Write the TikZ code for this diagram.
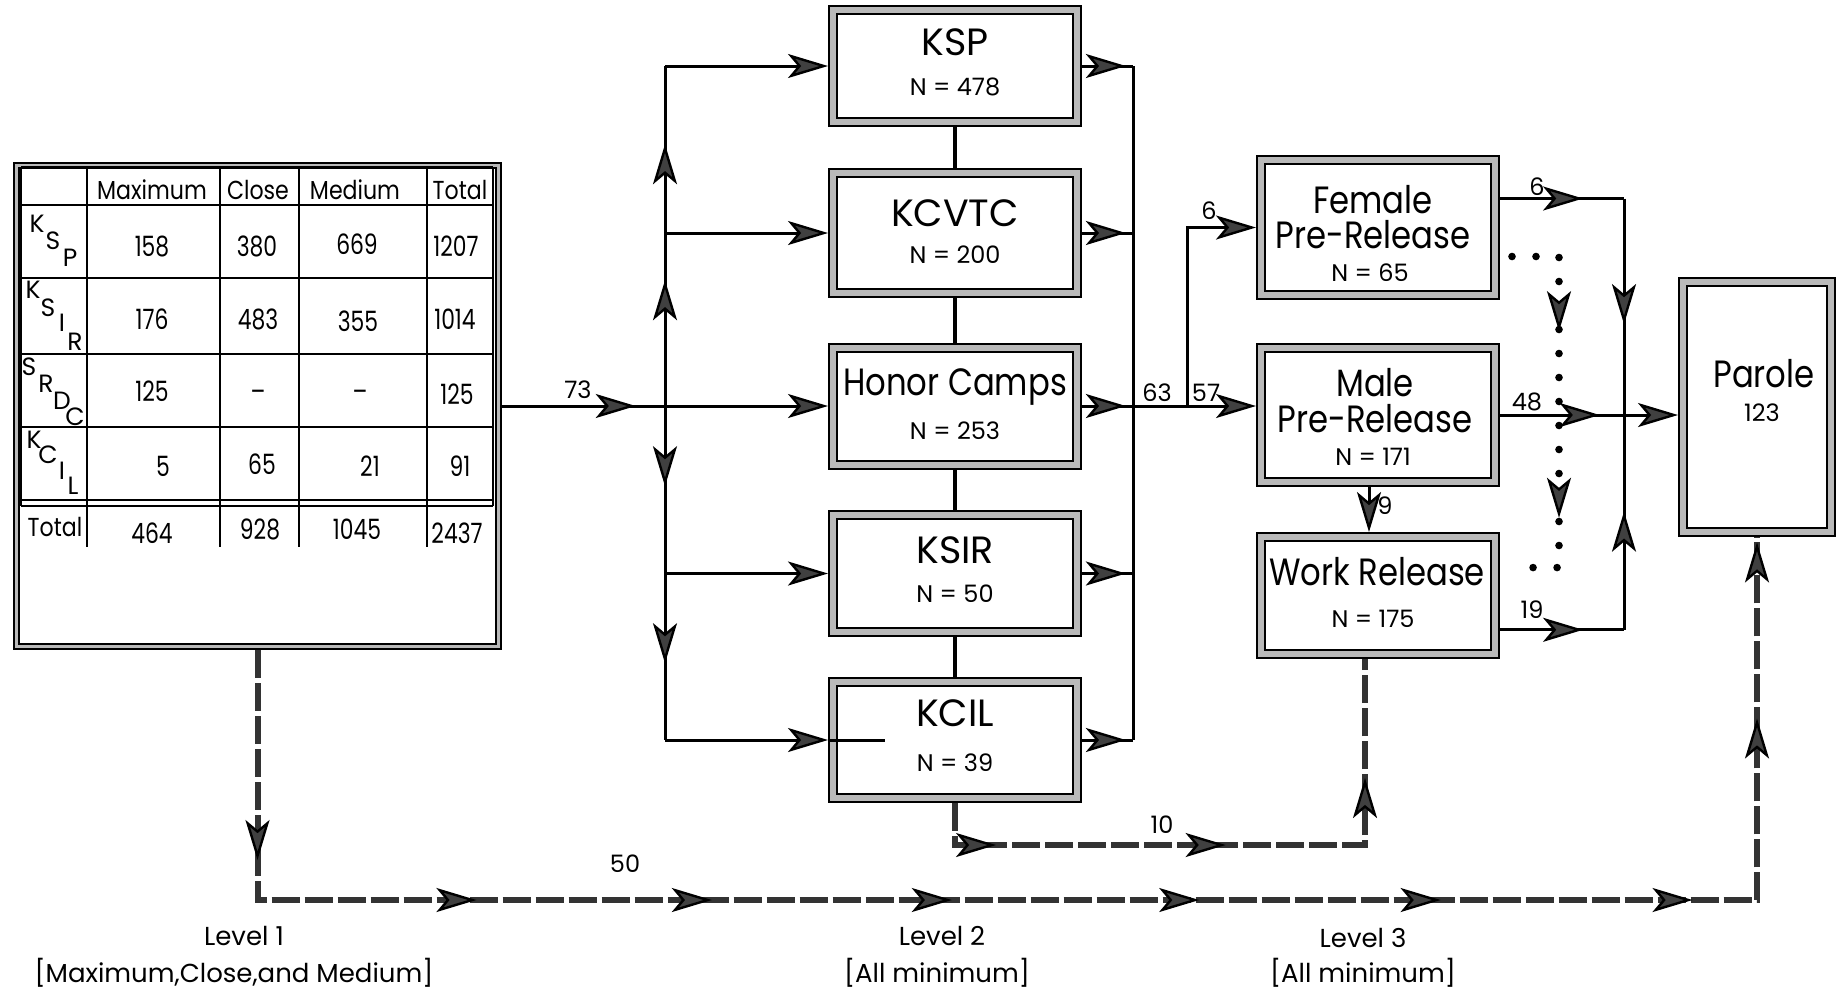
\documentclass[tikz,border=0pt]{standalone}
\usepackage{fontspec}
\setmainfont{Poppins}
\newfontfamily\narrowfont{Poppins}[FakeStretch=0.85]
\newfontfamily\digitfont{Poppins}[FakeStretch=0.78]
\usetikzlibrary{arrows.meta,calc,decorations.markings}
\begin{document}
\begin{tikzpicture}[x=0.5pt,y=-0.5pt,
  boxframe/.style={draw=black,line width=1pt,double=gray!55,double distance=3pt,inner sep=0pt,outer sep=2.5pt},
  tabframe/.style={draw=black,line width=0.9pt,double=gray!55,double distance=1.8pt,inner sep=0pt,outer sep=1.8pt},
  tabline/.style={draw=black,line width=1pt},
  conn/.style={draw=black,line width=1.5pt},
  tipend/.style={-{Stealth[length=20pt,width=12pt,inset=5pt,fill=gray!50!black,line width=1.2pt]}},
  boxlink/.style={draw=black,line width=2.4pt},
  dashconn/.style={draw=black!80,line width=3pt,dash pattern=on 14pt off 2.5pt},
  dotconn/.style={draw=black,line width=3.8pt,line cap=round,dash pattern=on 0pt off 12pt},
  arrowat/.style={postaction={decorate,decoration={markings,mark=at position #1 with {\arrow{Stealth[length=20pt,width=12pt,inset=5pt,fill=gray!50!black,line width=1.2pt]}}}}},
  ttl/.style={inner sep=0pt,font=\fontsize{19}{22}\selectfont,text height=13.3pt,text depth=0pt},
  nttl/.style={inner sep=0pt,font=\narrowfont\fontsize{19}{22}\selectfont,text height=13.3pt,text depth=0pt},
  nval/.style={inner sep=0pt,font=\fontsize{12}{14}\selectfont,text height=8.4pt,text depth=0pt},
  hdr/.style={inner sep=0pt,font=\narrowfont\fontsize{13}{15}\selectfont,text height=9.1pt,text depth=0pt},
  num/.style={inner sep=0pt,font=\digitfont\fontsize{14}{16}\selectfont,text height=9.8pt,text depth=0pt},
  rowl/.style={inner sep=0pt,font=\fontsize{12.5}{15}\selectfont,text height=8.8pt,text depth=0pt},
  lab/.style={inner sep=0pt,font=\fontsize{12}{14}\selectfont,text height=8.4pt,text depth=0pt},
  lvl/.style={inner sep=0pt,font=\fontsize{13}{15}\selectfont,text height=9.1pt,text depth=0pt},
]
\useasboundingbox (0,0) rectangle (1841,993);
\fill[white] (0,0) rectangle (1841,993);

% ---------- Level 1 table ----------
\node[tabframe,minimum width=241pt,minimum height=240.5pt] (tab) at (257.5,406) {};
\foreach \yy in {167,205,278,354,427,500,506} \draw[tabline] (21,\yy) -- (493,\yy);
\draw[tabline] (21,167) -- (21,506);
\draw[tabline] (493,167) -- (493,506);
\foreach \xx in {87,220,299,427} \draw[tabline] (\xx,167) -- (\xx,547);

\node[hdr] (hmax) at (152,190) {Maximum};
\node[hdr] (hclo) at (258,190) {Close};
\node[hdr] (hmed) at (355,190) {Medium};
\node[hdr] (htot) at (460,190) {Total};

\node[rowl] (r1a) at (37,224) {K};
\node[rowl] (r1b) at (53,241) {S};
\node[rowl] (r1c) at (70,258) {P};
\node[rowl] (r2a) at (33,290) {K};
\node[rowl] (r2b) at (48,308) {S};
\node[rowl] (r2c) at (62,323) {I};
\node[rowl] (r2d) at (75,342) {R};
\node[rowl] (r3a) at (29,367) {S};
\node[rowl] (r3b) at (46,384) {R};
\node[rowl] (r3c) at (62,401) {D};
\node[rowl] (r3d) at (75,417) {C};
\node[rowl] (r4a) at (34,440) {K};
\node[rowl] (r4b) at (48,455) {C};
\node[rowl] (r4c) at (62,471) {I};
\node[rowl] (r4d) at (73,486) {L};
\node[hdr] (r5a) at (55,527) {Total};

\node[num] (c11) at (152,247) {158};
\node[num] (c12) at (257,247) {380};
\node[num] (c13) at (357,245) {669};
\node[num] (c14) at (456,247) {1207};
\node[num] (c21) at (152,320) {176};
\node[num] (c22) at (258,320) {483};
\node[num] (c23) at (358,322) {355};
\node[num] (c24) at (455,320) {1014};
\node[num] (c31) at (152,392) {125};
\node[num] (c32) at (258,392) {–};
\node[num] (c33) at (360,392) {–};
\node[num] (c34) at (457,395) {125};
\node[num] (c41) at (163,467) {5};
\node[num] (c42) at (262,465) {65};
\node[num] (c43) at (370,467) {21};
\node[num] (c44) at (460,467) {91};
\node[num] (c51) at (152,534) {464};
\node[num] (c52) at (260,530) {928};
\node[num] (c53) at (357,530) {1045};
\node[num] (c54) at (457,534) {2437};

% ---------- Level 2 boxes ----------
\node[boxframe,minimum width=122pt,minimum height=56pt] (ksp) at (955,66) {};
\node[boxframe,minimum width=122pt,minimum height=60pt] (kcvtc) at (955,233) {};
\node[boxframe,minimum width=122pt,minimum height=58.5pt] (hc) at (955,406) {};
\node[boxframe,minimum width=122pt,minimum height=58.5pt] (ksir) at (955,573.5) {};
\node[boxframe,minimum width=122pt,minimum height=58pt] (kcil) at (955,740) {};

\node[ttl] (kspt) at (955,42) {KSP};
\node[nval] (kspn) at (955,87) {N = 478};
\node[ttl] (kcvtct) at (955,213) {KCVTC};
\node[nval] (kcvtcn) at (955,255) {N = 200};
\node[nttl] (hct) at (955,382) {Honor Camps};
\node[nval] (hcn) at (955,431) {N = 253};
\node[ttl] (ksirt) at (955,550) {KSIR};
\node[nval] (ksirn) at (955,594) {N = 50};
\node[ttl] (kcilt) at (955,713) {KCIL};
\node[nval] (kciln) at (955,763) {N = 39};

% ---------- Level 3 boxes ----------
\node[boxframe,minimum width=117pt,minimum height=67.5pt] (female) at (1378,227.5) {};
\node[boxframe,minimum width=117pt,minimum height=67pt] (male) at (1378,415) {};
\node[boxframe,minimum width=117pt,minimum height=58.5pt] (wr) at (1378,595.5) {};
\node[boxframe,minimum width=74pt,minimum height=125pt] (parole) at (1757,407) {};

\node[nttl] (fem1) at (1373,200) {Female};
\node[nttl] (fem2) at (1373,235) {Pre-Release};
\node[nval] (femn) at (1370,273) {N = 65};
\node[nttl] (mal1) at (1375,383) {Male};
\node[nttl] (mal2) at (1375,419) {Pre-Release};
\node[nval] (maln) at (1373,457) {N = 171};
\node[nttl] (wr1) at (1377,572) {Work Release};
\node[nval] (wrn) at (1373,619) {N = 175};
\node[nttl] (par1) at (1764,374) {Parole};
\node[nval] (parn) at (1762,413) {123};

% ---------- Level 2 connectors ----------
\draw[conn,arrowat=0.41,tipend] (tab.east) -- (hc.west);
\coordinate (lbj) at (665,406);
\coordinate (lbt) at (665,66);
\coordinate (lbb) at (665,740);
\draw[conn,arrowat=0.37,arrowat=0.77] (lbj) -- (lbt);
\draw[conn,arrowat=0.24,arrowat=0.77] (lbj) -- (lbb);
\draw[conn,tipend] (lbt) -- (ksp.west);
\draw[conn,tipend] (lbt |- kcvtc.west) -- (kcvtc.west);
\draw[conn,tipend] (lbb |- ksir.west) -- (ksir.west);
\draw[conn,tipend] (lbb) -- (kcil.west);
\draw[conn] (kcil.west) -- ++(57,0);

\draw[boxlink] (ksp.south) -- (kcvtc.north);
\draw[boxlink] (kcvtc.south) -- (hc.north);
\draw[boxlink] (hc.south) -- (ksir.north);
\draw[boxlink] (ksir.south) -- (kcil.north);

\coordinate (rbt) at (1133,66);
\coordinate (rbb) at (1133,740);
\draw[conn] (rbt) -- (rbb);
\draw[conn,arrowat=0.86] (ksp.east) -- (rbt);
\draw[conn,arrowat=0.86] (kcvtc.east) -- (rbt |- kcvtc.east);
\draw[conn,arrowat=0.86] (hc.east) -- (rbt |- hc.east);
\draw[conn,arrowat=0.86] (ksir.east) -- (rbt |- ksir.east);
\draw[conn,arrowat=0.86] (kcil.east) -- (rbb);

% ---------- to Level 3 ----------
\coordinate (split) at (1187,406);
\draw[conn,tipend] (rbt |- hc.east) -- (male.west |- hc.east);
\draw[conn,tipend] (split) -- (split |- female.west) -- (female.west);

\coordinate (fo) at ($(female.north east)!0.3!(female.south east)$);
\coordinate (wro) at ($(wr.north east)!0.77!(wr.south east)$);
\coordinate (l3x) at (1624,0);
\coordinate (l3t) at (fo -| l3x);
\coordinate (l3b) at (wro -| l3x);
\coordinate (l3m) at (male.east -| l3x);
\draw[conn,arrowat=0.67] (fo) -- (l3t);
\draw[conn,arrowat=0.67] (wro) -- (l3b);
\draw[conn,arrowat=0.58] (l3t) -- (l3m);
\draw[conn,arrowat=0.55] (l3b) -- (l3m);
\draw[conn,arrowat=0.56,tipend] (male.east) -- (male.east -| parole.west);
\draw[conn,tipend] ($(male.south)+(-9,0)$) -- ($(wr.north)+(-9,0)$);

% dotted path
\coordinate (dx) at (1559,0);
\coordinate (ds) at ($(female.north east)!0.7!(female.south east)$);
\coordinate (de) at ($(wr.north east)!0.28!(wr.south east)$);
\draw[dotconn] ($(ds)+(12,0)$) -- (ds -| dx) -- (de -| dx) -- ($(de)+(12,0)$);
\path[arrowat=0.24,arrowat=0.84] (ds -| dx) -- (de -| dx);

% KCIL dashed path to work release
\coordinate (kdy) at (0,845);
\coordinate (kd1) at (kcil.south |- kdy);
\coordinate (kd2) at (1365,845);
\draw[dashconn] (kcil.south) -- (kd1) -- (kd2) -- (kd2 |- wr.south);
\path[arrowat=0.1,arrowat=0.66] (kd1) -- (kd2);
\path[arrowat=0.36] (kd2) -- (kd2 |- wr.south);

% bottom dashed path to parole
\coordinate (bdy) at (0,900);
\coordinate (bd1) at (tab.south |- bdy);
\coordinate (bd2) at (parole.south |- bdy);
\draw[dashconn] (tab.south) -- (bd1) -- (bd2) -- (parole.south);
\path[arrowat=0.84] (tab.south) -- (bd1);
\path[arrowat=0.146,arrowat=0.303,arrowat=0.463,arrowat=0.628,arrowat=0.789,arrowat=0.957] (bd1) -- (bd2);
\path[arrowat=0.5,arrowat=0.985] (bd2) -- (parole.south);

% ---------- labels ----------
\node[lab] (l73) at (578,390) {73};
\node[lab] (l63) at (1157,393) {63};
\node[lab] (l57) at (1206,393) {57};
\node[lab] (l6a) at (1209,211) {6};
\node[lab] (l6b) at (1537,187) {6};
\node[lab] (l48) at (1527,402) {48};
\node[lab] (l19) at (1532,610) {19};
\node[lab] (l9) at (1385,506) {9};
\node[lab] (l10) at (1162,825) {10};
\node[lab] (l50) at (625,864) {50};

\node[lvl] (lv1) at (244,936) {Level 1};
\node[lvl] (lv1b) at (234,973) {[Maximum,Close,and Medium]};
\node[lvl] (lv2) at (942,936) {Level 2};
\node[lvl] (lv2b) at (937,973) {[All minimum]};
\node[lvl] (lv3) at (1363,938) {Level 3};
\node[lvl] (lv3b) at (1363,973) {[All minimum]};
\end{tikzpicture}
\end{document}
